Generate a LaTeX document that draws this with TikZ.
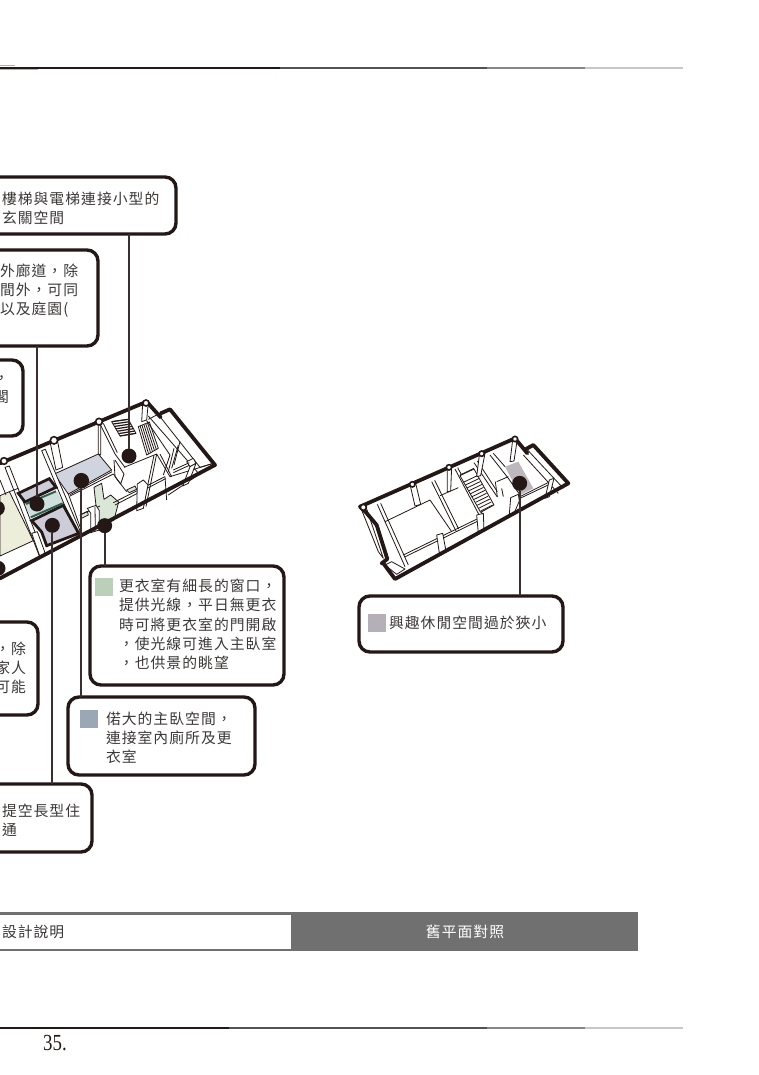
\documentclass[tikz,border=0pt]{standalone}
\usepackage{fontspec}
\usetikzlibrary{calc}
\newfontfamily\cjk[LetterSpace=7]{Noto Sans CJK TC}
\newfontfamily\numfont{Liberation Serif}
\definecolor{ink}{HTML}{231815}
\definecolor{txtc}{HTML}{3C3837}
\definecolor{barc}{HTML}{717071}
\definecolor{swgreen}{HTML}{BCCFB8}
\definecolor{swblue}{HTML}{9CA7B5}
\definecolor{swgrey}{HTML}{B5AFB8}
\definecolor{cream}{HTML}{ECEEDB}
\definecolor{roomblue}{HTML}{CFD4DF}
\definecolor{roomteal}{HTML}{CFE0DC}
\definecolor{roomgreen}{HTML}{D9E6D8}
\definecolor{mauve}{HTML}{CDCCD9}
\definecolor{dkgreen}{HTML}{2F5F50}
\definecolor{oldgrey}{HTML}{BCB8BD}
\tikzset{
  callout/.style={draw=ink,line width=3.4pt,rounded corners=11pt,fill=white,inner sep=0pt,outer sep=0pt},
  txt/.style={font=\cjk\fontsize{14.8}{19.3}\selectfont,text=txtc,align=left,anchor=west,inner sep=0pt,outer sep=0pt},
  swatch/.style={inner sep=0pt,outer sep=0pt,minimum width=18pt,minimum height=18pt,anchor=north west},
  spot/.style={circle,fill=ink,inner sep=0pt,outer sep=0pt},
  lead/.style={draw=ink!90,line width=1.8pt},
  wall/.style={draw=ink,line width=3.8pt,line join=round,line cap=round},
  fine/.style={draw=ink,line width=.8pt,line join=round},
  pier/.style={draw=ink,line width=.8pt,fill=white,line join=round},
  capb/.style={draw=ink,line width=1.6pt,fill=white},
  roombox/.style={draw=ink,line width=2.8pt,line join=miter,fill=#1},
  hrule/.style={line width=2pt}
}
\begin{document}
\begin{tikzpicture}[x=1pt,y=-1pt]
\path[use as bounding box,fill=white] (0,0) rectangle (759,1075);
\clip (0,0) rectangle (759,1075);

% header and footer rules
\foreach \yy/\xa in {67.6/280,1027.6/229}{
  \draw[hrule,ink] (0,\yy) -- (\xa,\yy);
  \draw[hrule,black!68] (\xa,\yy) -- (487,\yy);
  \draw[hrule,black!47] (487,\yy) -- (585,\yy);
  \draw[hrule,black!22] (585,\yy) -- (683,\yy);
}
\draw[black!30,line width=1pt] (0,65.5) -- (15,65.5);
\draw[black!30,line width=1pt] (0,69.5) -- (38,69.5);

% ===== new plan =====
\begin{scope}[shift={(0,380)},scale=1/3]
  % floors
  \fill[fill=white] (0,250) -- (440,65) -- (480,105) -- (510,88) -- (645,255) -- (0,595) -- cycle;
  \path[fill=cream,fine] (0,347) -- (28,335) -- (100,482) -- (0,528) -- cycle;
  \path[fill=roomblue,fine] (163,282) -- (295,222) -- (335,270) -- (205,342) -- cycle;
  \path[fill=roomteal] (72,372) -- (172,335) -- (190,370) -- (92,410) -- cycle;
  \path[fill=roomgreen,fine] (282,322) -- (305,310) -- (312,358) -- (332,345) -- (356,366) -- (342,420) -- (300,440) -- (290,395) -- cycle;
  \path[fill=roomgreen,fine] (240,405) -- (262,394) -- (265,405) -- (245,415) -- cycle;
  \path[fill=roomgreen,fine] (380,330) -- (405,318) -- (410,328) -- (388,338) -- cycle;
  % double cross walls
  \path[pier] (15,262) -- (28,258) -- (130,520) -- (118,528) -- cycle;
  \draw[fine] (0,300) -- (18,345);
  \path[pier] (125,212) -- (136,208) -- (240,452) -- (230,462) -- cycle;
  \draw[fine] (28,335) -- (55,325);
  % long room lines
  \draw[fine] (205,342) -- (240,440);
  \draw[fine] (210,348) -- (340,282);
  \draw[fine] (210,344) -- (336,275);
  \draw[fine] (240,405) -- (300,378);
  \draw[fine] (340,368) -- (495,290);
  \draw[fine] (345,375) -- (497,296);
  \draw[fine] (495,290) -- (500,360);
  \draw[fine] (505,345) -- (635,258);
  \draw[fine] (510,290) -- (640,250);
  % central walls
  \path[pier] (295,130) -- (302,135) -- (302,225) -- (295,222) -- cycle;
  \draw[fine] (300,132) -- (345,222) -- (375,262);
  \draw[fine] (310,130) -- (352,218);
  \draw[fine] (342,240) -- (345,290);
  \draw[fine] (345,240) -- (372,282) -- (362,312) -- (340,282);
  \draw[fine] (345,290) -- (372,325) -- (380,335);
  \draw[fine] (372,262) -- (470,222);
  \draw[fine] (470,222) -- (438,380);
  \draw[fine] (462,226) -- (430,378);
  % stairs
  \path[fill=white,fine] (335,125) -- (385,118) -- (408,160) -- (360,168) -- cycle;
  \foreach \i in {0,...,6}{
    \draw[ink,line width=1.2pt] ($(335,125)!\i/6!(360,168)$) -- ($(385,118)!\i/6!(408,160)$);
  }
  \path[pier] (415,140) -- (448,126) -- (475,205) -- (440,225) -- cycle;
  \foreach \i in {1,...,5}{
    \draw[fine] ($(415,140)!\i/6!(448,126)$) -- ($(440,225)!\i/6!(475,205)$);
  }
  % right wing
  \path[pier] (428,70) -- (445,68) -- (440,120) -- (425,125) -- cycle;
  \draw[fine] (445,118) -- (480,100);
  \draw[fine] (445,108) -- (600,285);
  \draw[fine] (440,122) -- (510,225);
  \draw[fine] (470,222) -- (510,290);
  \draw[fine] (480,222) -- (515,290);
  \draw[fine] (480,110) -- (600,262) -- (640,250);
  \draw[fine] (510,225) -- (490,285);
  \draw[fine] (522,205) -- (505,275);
  \draw[fine] (535,195) -- (515,265);
  \draw[fine] (540,185) -- (522,255);
  \path[pier] (560,245) -- (580,235) -- (588,250) -- (570,260) -- cycle;
  \path[pier] (570,260) -- (588,250) -- (565,310) -- (548,318) -- cycle;
  \draw[fine] (520,270) -- (568,248);
  \draw[fine] (520,278) -- (568,256);
  % piers on the facade
  \path[pier] (150,185) -- (172,180) -- (188,262) -- (168,270) -- cycle;
  \path[pier] (284,125) -- (308,118) -- (306,132) -- (292,135) -- cycle;
  \path[pier] (262,385) -- (288,376) -- (298,392) -- (298,450) -- (272,458) -- (272,400) -- cycle;
  \draw[fine] (285,380) -- (286,452);
  \path[pier] (412,312) -- (430,300) -- (444,315) -- (430,385) -- (410,392) -- cycle;
  \path[pier] (95,460) -- (112,455) -- (135,518) -- (120,530) -- cycle;
  % coloured thick rooms
  \path[roombox=mauve] (55,340) -- (148,296) -- (168,322) -- (75,366) -- cycle;
  \path[roombox=mauve] (95,422) -- (190,376) -- (236,460) -- (140,497) -- (125,456) -- cycle;
  \draw[dkgreen,line width=2pt] (78,372) -- (168,334);
  \draw[dkgreen,line width=2pt] (92,412) -- (188,370);
  % outer walls
  \draw[wall] (0,250) -- (440,65) -- (482,112);
  \draw[wall] (482,100) -- (510,88) -- (645,255) -- (0,595);
  \draw[capb] (12,243) circle (10);
  \draw[capb] (162,181) circle (11);
  \draw[capb] (297,125) circle (10);
  \draw[capb] (438,69) circle (9);
  % markers
  \node[spot,minimum size=15pt] (d1) at (387,228) {};
  \node[spot,minimum size=15pt] (d2) at (111,372) {};
  \node[spot,minimum size=15.5pt] (d3) at (244,302) {};
  \node[spot,minimum size=15pt] (d4) at (157,436) {};
  \node[spot,minimum size=15pt] (d5) at (314,437) {};
  \node[spot,minimum size=15pt] (d6) at (-6,565) {};
  \node[spot,minimum size=15pt] (d7) at (-8,385) {};
\end{scope}

% ===== old plan =====
\begin{scope}[shift={(350,425)},scale=1/3]
  \path[fill=oldgrey] (465,125) -- (505,110) -- (550,190) -- (510,210) -- cycle;
  \draw[fine] (82,238) -- (165,425);
  \draw[fine] (92,235) -- (175,420);
  \draw[fine] (105,290) -- (240,225);
  \draw[fine] (240,225) -- (305,320);
  \draw[fine] (160,390) -- (385,280);
  \draw[fine] (164,396) -- (388,286);
  \draw[fine] (245,170) -- (318,318);
  \draw[fine] (254,166) -- (326,312);
  \draw[fine] (270,212) -- (325,188);
  \draw[fine] (315,132) -- (390,275);
  \draw[fine] (323,128) -- (398,268);
  \draw[fine] (372,113) -- (442,216);
  \draw[fine] (382,108) -- (442,200);
  \draw[fine] (442,216) -- (436,170);
  \draw[fine] (330,150) -- (372,130);
  \path[pier] (330,152) -- (372,132) -- (432,240) -- (392,262) -- cycle;
  \foreach \i in {0,...,10}{
    \draw[ink,line width=.8pt] ($(340,172)!\i/10!(392,258)$) -- ($(382,152)!\i/10!(428,240)$);
  }
  \draw[fine] (420,90) -- (475,160) -- (510,210) ;
  \draw[fine] (430,85) -- (465,125);
  \draw[fine] (440,170) -- (475,155);
  \draw[fine] (455,190) -- (460,215);
  \draw[fine] (510,215) -- (600,170);
  \draw[fine] (510,220) -- (605,175);
  \draw[fine] (530,72) -- (640,190);
  \draw[fine] (520,90) -- (625,205);
  \path[pier] (598,165) -- (612,160) -- (598,215) -- (585,220) -- cycle;
  \path[pier] (482,218) -- (505,208) -- (508,228) -- (490,270) -- (478,268) -- cycle;
  % piers
  \path[pier] (180,178) -- (197,175) -- (212,238) -- (195,243) -- cycle;
  \path[pier] (292,128) -- (305,125) -- (302,198) -- (292,200) -- cycle;
  \path[pier] (388,90) -- (405,85) -- (392,152) -- (380,155) -- cycle;
  \path[pier] (488,45) -- (502,42) -- (492,108) -- (480,110) -- cycle;
  \path[pier] (260,330) -- (278,325) -- (288,378) -- (268,384) -- cycle;
  \path[pier] (380,270) -- (400,265) -- (402,318) -- (385,325) -- cycle;
  \path[pier] (33,250) -- (48,246) -- (100,400) -- (85,380) -- cycle;
  \path[pier] (105,420) -- (125,410) -- (165,432) -- (140,448) -- cycle;
  % outer walls
  \draw[wall] (100,415) -- (135,462) -- (655,175) -- (550,60) -- (528,72);
  \draw[wall] (532,85) -- (495,40) -- (30,245) -- (48,262) -- (80,300) -- (112,402) -- (95,415) -- (100,415);
  \draw[capb] (40,247) circle (9);
  \draw[capb] (187,178) circle (8);
  \draw[capb] (297,127) circle (8);
  \draw[capb] (395,86) circle (8);
  \draw[capb] (495,42) circle (8);
  \node[spot,minimum size=15pt] (d8) at (509,175) {};
\end{scope}

% ===== callouts =====
\node[callout,minimum width=216pt,minimum height=57pt] (b1) at (68,205.5) {};
\node[callout,minimum width=158pt,minimum height=96pt] (b2) at (19,298) {};
\node[callout,minimum width=143pt,minimum height=76pt] (b3) at (-48.5,398) {};
\node[callout,minimum width=158pt,minimum height=93pt] (b4) at (-41,668.5) {};
\node[callout,minimum width=212pt,minimum height=68pt] (b5) at (-14,818) {};
\node[callout,minimum width=194pt,minimum height=119pt] (b6) at (187,625.5) {};
\node[callout,minimum width=187pt,minimum height=78pt] (b7) at (161.5,736) {};
\node[callout,minimum width=204pt,minimum height=56pt] (b8) at (461,624) {};

\node[swatch,fill=swgreen] (s6) at (95,578) {};
\node[swatch,fill=swblue] (s7) at (79.5,710) {};
\node[swatch,fill=swgrey] (s8) at (368,614) {};

\node[txt] (t1) at (2,208.5) {樓梯與電梯連接小型的\\玄關空間};
\node[txt] (t2) at (0,290.5) {外廊道，除\\間外，可同\\以及庭園(};
\node[txt,anchor=east] (t3) at (9,390) {，\\閣};
\node[txt,anchor=east] (t4) at (26,668) {，除\\家人\\可能};
\node[txt] (t5) at (2,820.5) {提空長型住\\通};
\node[txt] (t6) at (119,624.5) {更衣室有細長的窗口，\\提供光線，平日無更衣\\時可將更衣室的門開啟\\，使光線可進入主臥室\\，也供景的眺望};
\node[txt] (t7) at (106,738) {偌大的主臥空間，\\連接室內廁所及更\\衣室};
\node[txt] (t8) at (389,623) {興趣休閒空間過於狹小};

% connectors
\draw[lead] (b1.south -| d1) -- (d1);
\draw[lead] (b2.south -| d2) -- (d2);
\draw[lead] (b7.north -| d3) -- (d3);
\draw[lead] (b5.north -| d4) -- (d4);
\draw[lead] (b6.north -| d5) -- (d5);
\draw[lead] (b8.north -| d8) -- (d8);

% tab bar
\fill[barc] (-5,912) rectangle (638,950.5);
\fill[white] (-5,914.5) rectangle (291,948.5);
\node[txt] (tab1) at (2,931.5) {設計說明};
\node[txt,anchor=center,text=white] (tab2) at (465,931.5) {舊平面對照};

% page number
\node[inner sep=0pt,anchor=west,font=\numfont\fontsize{23}{23}\selectfont,text=ink,xscale=.82] (pg) at (43,1043) {35.};
\end{tikzpicture}
\end{document}
